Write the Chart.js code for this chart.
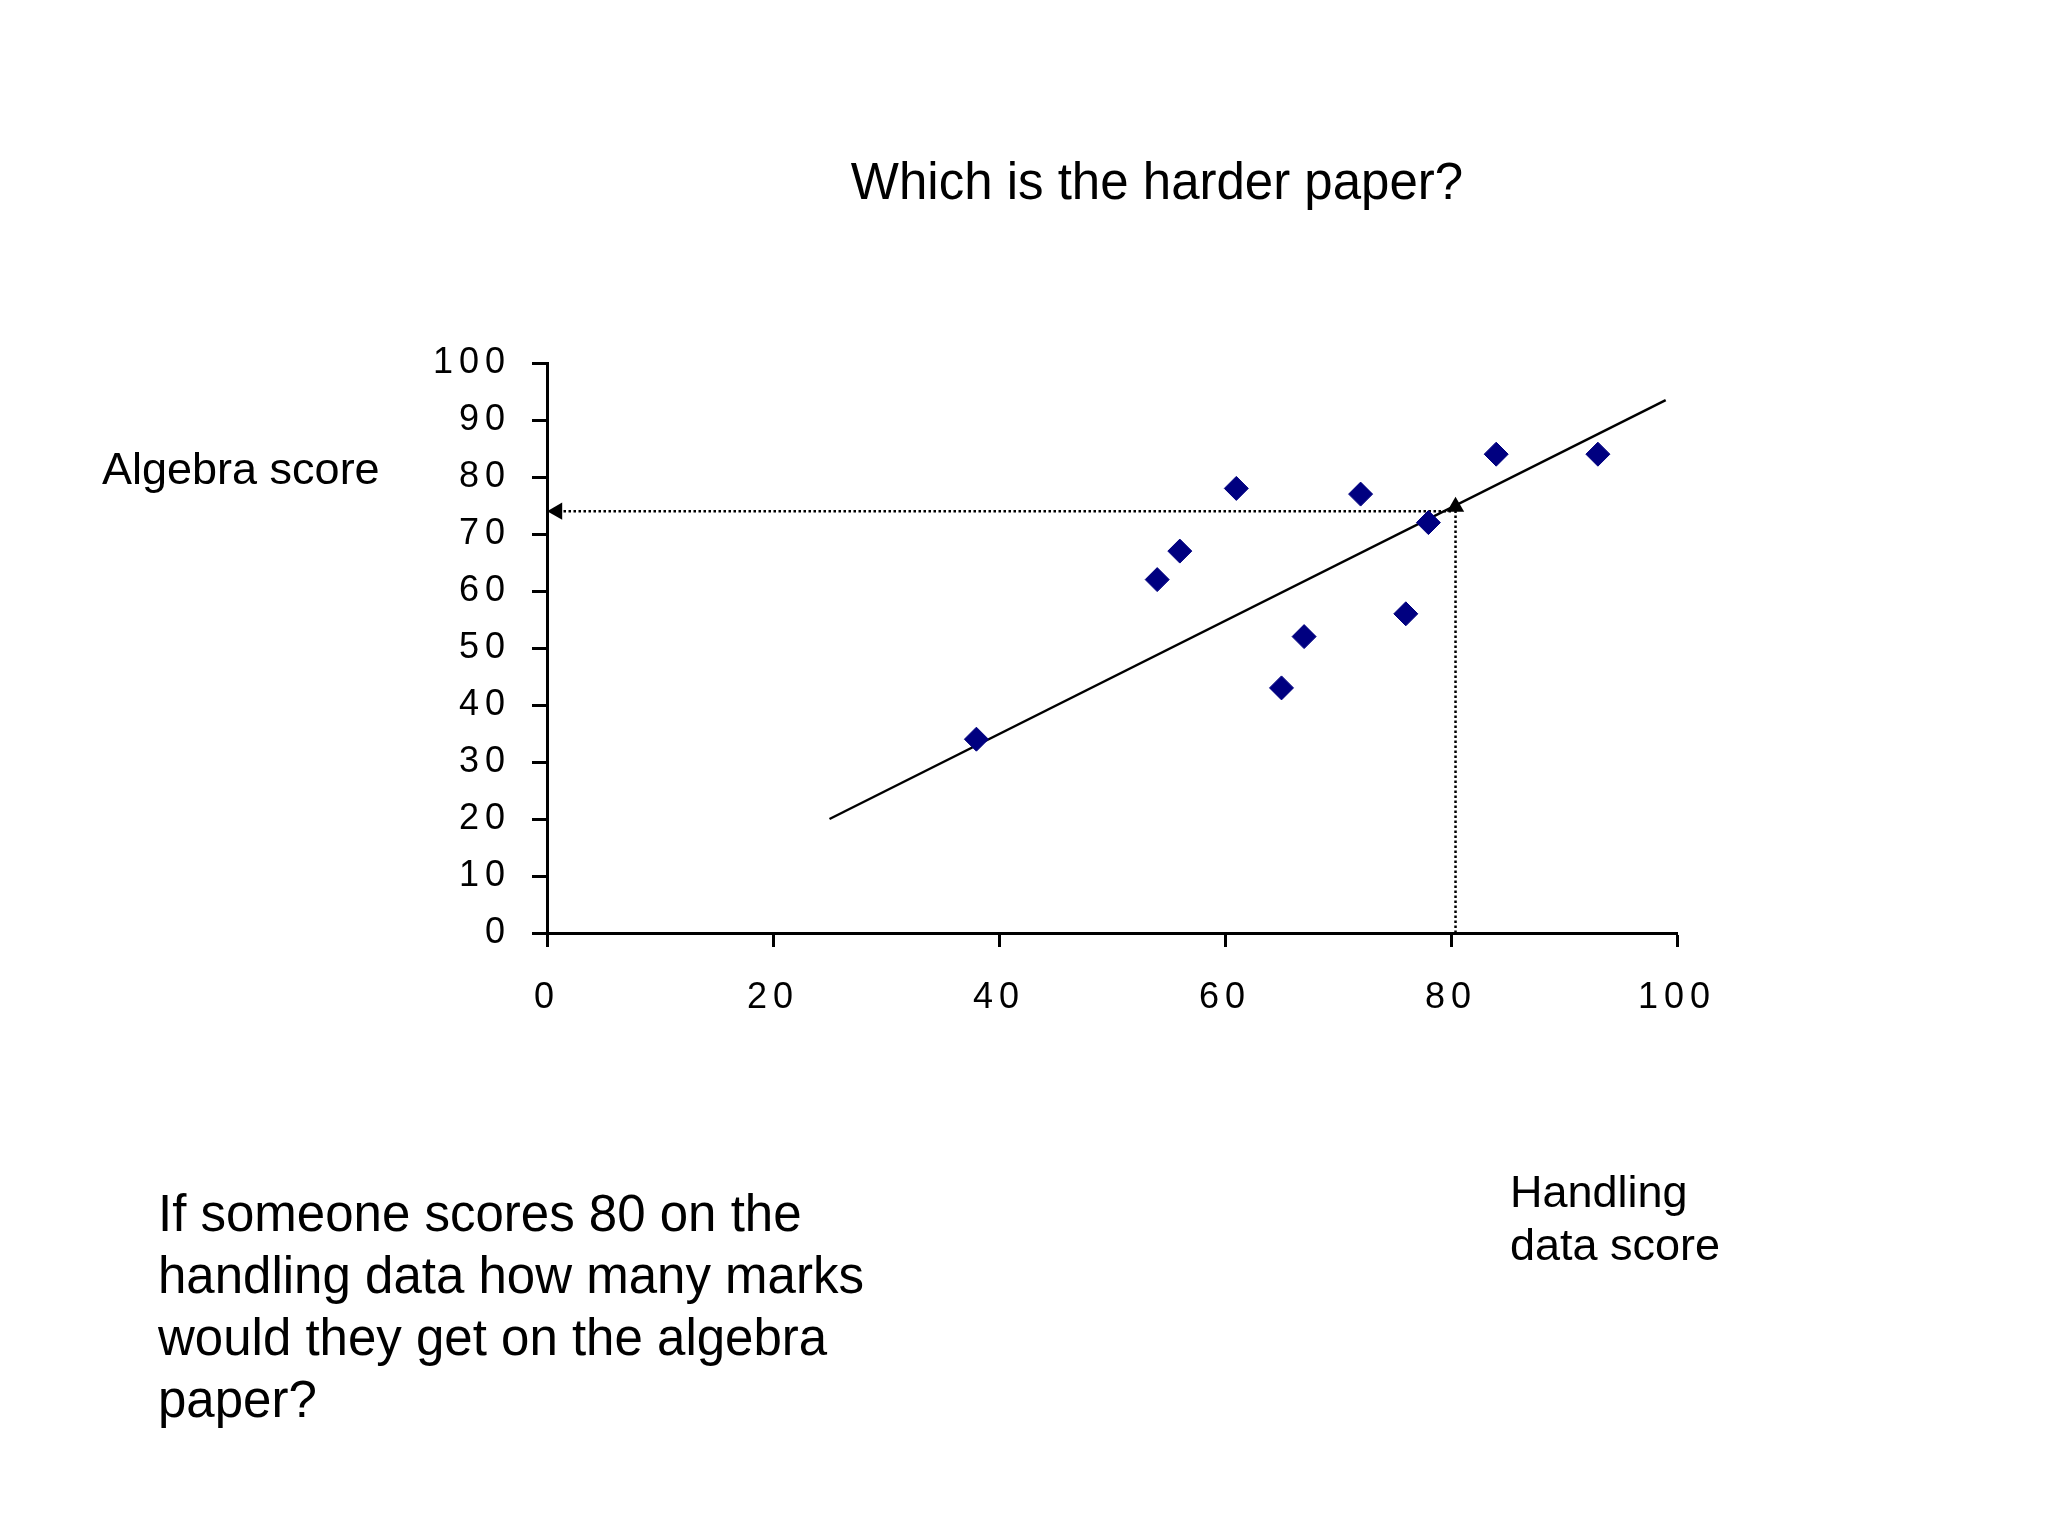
<!DOCTYPE html>
<html>
<head>
<meta charset="utf-8">
<script src="https://cdn.jsdelivr.net/npm/chart.js@4/dist/chart.umd.min.js"></script>
<style>
  body { margin: 0; background: #fff; }
  canvas { display: block; }
</style>
</head>
<body>
<canvas id="chart" width="2048" height="1536"></canvas>
<script>
const handlingScores = [38, 54, 56, 61, 65, 67, 72, 76, 78, 84, 93]
const algebraScores = [34, 62, 67, 78, 43, 52, 77, 56, 72, 84, 84]

const trendX = [25, 99]
const trendY = [20, 93.5]

// read-off guide: 80 on handling data -> about 74 on algebra
const guideHX = [80, 0.9]
const guideHY = [74, 74]
const guideVX = [80.4, 80.4]
const guideVY = [0, 74.8]

const xTicks = [0, 20, 40, 60, 80, 100]
const yTicks = [0, 10, 20, 30, 40, 50, 60, 70, 80, 90, 100]

const titleText = 'Which is the harder paper?'
const yCaption = 'Algebra score'
const xCaption = ['Handling', 'data score']
const questionLines = ['If someone scores 80 on the', 'handling data how many marks', 'would they get on the algebra', 'paper?']

const fontFamily = "'Liberation Sans', Arial, sans-serif"

function toPoints(xs, ys) {
    return xs.map((x, i) => ({ x: x, y: ys[i] }))
}

const slideText = {
    id: 'slideText',
    beforeDraw(chart) {
        chart.ctx.letterSpacing = '6px'
    },
    afterDraw(chart) {
        let ctx = chart.ctx
        ctx.save()
        ctx.letterSpacing = '0px'
        ctx.fillStyle = '#000'
        ctx.textBaseline = 'alphabetic'

        ctx.font = '51px ' + fontFamily
        ctx.textAlign = 'center'
        ctx.fillText(titleText, 1157, 199)

        ctx.textAlign = 'left'
        ctx.font = '45px ' + fontFamily
        ctx.fillText(yCaption, 102, 484)
        xCaption.forEach((line, i) => ctx.fillText(line, 1510, 1207 + i * 53))

        ctx.font = '51px ' + fontFamily
        questionLines.forEach((line, i) => ctx.fillText(line, 158, 1231 + i * 62))
        ctx.restore()
    }
}

new Chart(document.getElementById('chart'), {
    type: 'scatter',
    data: {
        datasets: [
            {
                label: 'scores',
                data: toPoints(handlingScores, algebraScores),
                pointStyle: 'rectRot',
                pointRadius: 12,
                backgroundColor: '#000080',
                borderColor: '#000080',
                borderWidth: 1,
                clip: false,
                order: 0
            },
            {
                label: 'trend',
                data: toPoints(trendX, trendY),
                showLine: true,
                pointRadius: 0,
                borderColor: '#000',
                borderWidth: 2.5,
                clip: false,
                order: 1
            },
            {
                label: 'across',
                data: toPoints(guideHX, guideHY),
                showLine: true,
                borderColor: '#000',
                borderWidth: 2.5,
                borderDash: [2.5, 2.5],
                pointStyle: 'triangle',
                pointRotation: -90,
                pointRadius: [0, 10],
                pointBackgroundColor: '#000',
                pointBorderWidth: 0,
                clip: false,
                order: 2
            },
            {
                label: 'up',
                data: toPoints(guideVX, guideVY),
                showLine: true,
                borderColor: '#000',
                borderWidth: 2.5,
                borderDash: [2.5, 2.5],
                pointStyle: 'triangle',
                pointRotation: 0,
                pointRadius: [0, 10],
                pointBackgroundColor: '#000',
                pointBorderWidth: 0,
                clip: false,
                order: 2
            }
        ]
    },
    options: {
        responsive: false,
        animation: false,
        events: [],
        layout: { padding: { left: 0, top: 363, right: 371, bottom: 0 } },
        plugins: {
            legend: { display: false },
            tooltip: { enabled: false },
            title: { display: false }
        },
        scales: {
            x: {
                type: 'linear',
                min: 0,
                max: 100,
                afterBuildTicks: scale => { scale.ticks = xTicks.map(v => ({ value: v })) },
                afterFit: scale => { scale.height = 1536 - 933 },
                ticks: {
                    color: '#000',
                    font: { family: fontFamily, size: 36 },
                    padding: 29,
                    maxRotation: 0,
                    autoSkip: false
                },
                grid: { drawOnChartArea: false, drawTicks: true, tickLength: 14, tickWidth: 3, tickColor: '#000' },
                border: { display: true, color: '#000', width: 3 }
            },
            y: {
                type: 'linear',
                min: 0,
                max: 100,
                afterBuildTicks: scale => { scale.ticks = yTicks.map(v => ({ value: v })) },
                afterFit: scale => { scale.width = 547 },
                ticks: {
                    color: '#000',
                    font: { family: fontFamily, size: 36 },
                    padding: 21,
                    autoSkip: false
                },
                grid: { drawOnChartArea: false, drawTicks: true, tickLength: 15, tickWidth: 3, tickColor: '#000' },
                border: { display: true, color: '#000', width: 3 }
            }
        }
    },
    plugins: [slideText]
})
</script>
</body>
</html>
